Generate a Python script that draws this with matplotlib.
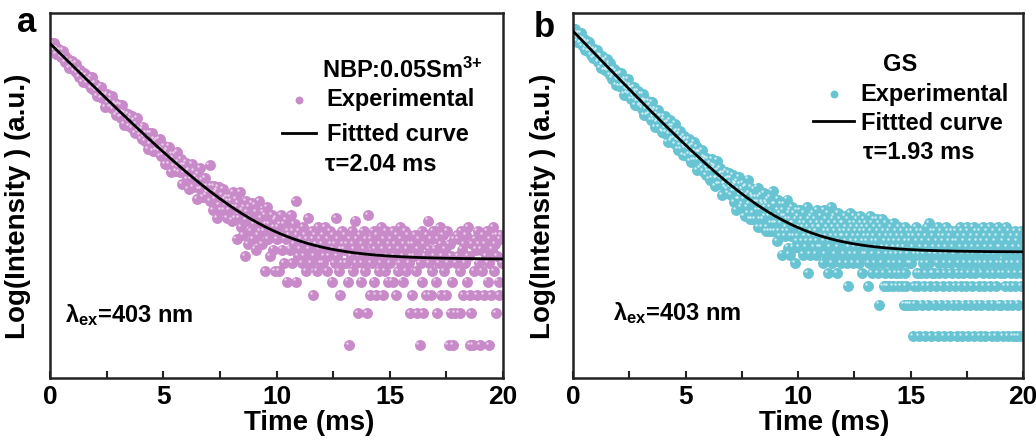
import numpy as np
import matplotlib.pyplot as plt
from matplotlib.transforms import ScaledTranslation

plt.rcParams['font.family'] = ['Liberation Sans', 'DejaVu Sans']
plt.rcParams['font.weight'] = 'bold'
plt.rcParams['axes.labelweight'] = 'bold'
plt.rcParams['mathtext.default'] = 'regular'

# decay curves, photon counts per channel
dt_a = 0.04   # ms per channel
counts_a = [
    719, 647, 713, 658, 713, 614, 633, 558, 638, 607, 572, 612, 530, 549, 606, 512, 537, 468, 504, 486, 508, 414, 475, 436, 481,
    422, 449, 388, 414, 457, 371, 397, 340, 398, 361, 372, 307, 373, 339, 320, 358, 298, 323, 306, 320, 269, 340, 279, 293, 260,
    296, 250, 224, 263, 269, 241, 277, 215, 235, 219, 236, 177, 224, 235, 191, 202, 177, 206, 224, 182, 169, 186, 193, 149, 183,
    155, 187, 163, 141, 186, 147, 159, 121, 157, 144, 132, 152, 117, 136, 129, 146, 113, 120, 132, 101, 121, 140, 104, 112, 96,
    107, 88, 110, 116, 93, 85, 100, 93, 71, 100, 90, 79, 101, 81, 68, 88, 82, 69, 87, 74, 68, 89, 61, 73, 69,
    62, 76, 51, 66, 69, 59, 75, 51, 58, 43, 63, 59, 49, 63, 44, 67, 48, 54, 43, 49, 57, 33, 50, 42, 50,
    53, 37, 44, 30, 45, 40, 37, 51, 31, 44, 36, 39, 24, 41, 36, 30, 47, 30, 36, 25, 32, 38, 26, 28, 32,
    28, 50, 23, 32, 28, 19, 32, 24, 28, 16, 29, 31, 21, 24, 19, 26, 30, 19, 24, 21, 16, 25, 23, 19, 25,
    23, 15, 28, 20, 16, 24, 10, 20, 22, 16, 28, 13, 19, 11, 20, 7, 23, 15, 18, 9, 20, 16, 12, 22, 10,
    14, 21, 8, 18, 14, 11, 23, 12, 16, 9, 18, 12, 5, 17, 14, 20, 10, 14, 7, 12, 17, 8, 13, 5, 15,
    16, 10, 13, 5, 14, 17, 8, 11, 6, 14, 10, 15, 4, 12, 11, 8, 17, 6, 12, 9, 14, 23, 4, 11, 7,
    12, 8, 10, 6, 13, 9, 7, 11, 5, 10, 16, 8, 9, 6, 12, 3, 10, 7, 11, 9, 5, 13, 8, 10, 6,
    9, 6, 11, 7, 13, 8, 5, 10, 7, 12, 9, 4, 8, 11, 6, 9, 16, 7, 10, 5, 3, 8, 12, 6, 9,
    8, 11, 6, 9, 4, 1, 10, 7, 12, 5, 9, 8, 15, 6, 10, 2, 7, 11, 4, 9, 6, 12, 8, 5, 10,
    2, 17, 7, 3, 10, 6, 9, 12, 4, 8, 3, 11, 7, 5, 9, 13, 6, 3, 8, 10, 5, 12, 7, 4, 9,
    6, 10, 8, 4, 12, 7, 9, 3, 11, 5, 8, 13, 6, 10, 4, 7, 9, 12, 5, 8, 11, 6, 2, 9, 7,
    3, 9, 7, 11, 5, 2, 8, 10, 1, 6, 12, 4, 2, 9, 7, 3, 11, 15, 6, 8, 3, 10, 5, 12, 7,
    8, 4, 2, 10, 6, 13, 3, 9, 7, 11, 5, 8, 3, 12, 6, 1, 9, 2, 7, 4, 1, 10, 2, 6, 11,
    7, 10, 2, 5, 12, 8, 3, 9, 6, 11, 4, 13, 7, 3, 1, 2, 9, 1, 5, 10, 8, 3, 12, 6, 9,
    1, 8, 5, 11, 3, 9, 7, 12, 4, 6, 1, 10, 3, 8, 13, 5, 9, 2, 7, 11, 4, 3, 10, 11, 6,
]

dt_b = 0.025
counts_b = [
    846, 732, 802, 753, 850, 711, 746, 641, 771, 740, 695, 770, 622, 696, 767, 632, 689, 583, 653, 631,
    673, 529, 625, 570, 651, 566, 612, 524, 563, 628, 516, 553, 476, 560, 511, 541, 442, 542, 496, 475,
    454, 524, 461, 529, 409, 467, 425, 441, 471, 361, 446, 466, 381, 417, 392, 423, 343, 428, 396, 341,
    441, 352, 365, 332, 377, 398, 309, 350, 331, 351, 284, 352, 302, 352, 304, 309, 336, 248, 307, 279,
    313, 272, 243, 288, 312, 267, 320, 239, 268, 243, 271, 200, 263, 282, 224, 241, 207, 249, 281, 222,
    203, 229, 244, 182, 232, 206, 230, 194, 237, 179, 203, 159, 204, 216, 185, 172, 218, 173, 185, 155,
    159, 201, 171, 147, 204, 158, 176, 127, 175, 162, 146, 173, 128, 155, 147, 172, 130, 138, 157, 114,
    145, 169, 123, 136, 114, 140, 99, 144, 122, 130, 110, 142, 113, 98, 117, 125, 109, 125, 89, 112,
    110, 87, 116, 125, 96, 87, 107, 98, 71, 110, 99, 84, 115, 89, 72, 101, 93, 76, 101, 84,
    77, 106, 68, 87, 81, 74, 89, 60, 84, 72, 90, 66, 73, 61, 77, 73, 53, 80, 64, 74,
    62, 75, 52, 67, 69, 61, 75, 54, 60, 46, 65, 61, 53, 66, 48, 71, 53, 58, 48, 54,
    63, 38, 56, 48, 56, 49, 56, 40, 49, 59, 42, 48, 37, 51, 44, 48, 34, 50, 43, 40,
    49, 37, 42, 31, 44, 40, 37, 49, 32, 43, 37, 40, 27, 42, 37, 32, 47, 32, 38, 28,
    34, 40, 28, 31, 35, 22, 36, 33, 28, 36, 29, 26, 37, 30, 25, 31, 23, 32, 36, 26,
    29, 22, 32, 27, 24, 34, 19, 27, 29, 24, 16, 28, 30, 20, 25, 33, 20, 22, 28, 17,
    25, 18, 29, 23, 20, 14, 26, 21, 27, 17, 22, 31, 15, 18, 23, 13, 26, 19, 22, 13,
    15, 21, 25, 18, 13, 21, 19, 16, 26, 11, 19, 21, 16, 13, 22, 17, 11, 19, 18, 13,
    23, 14, 17, 10, 19, 18, 11, 20, 14, 10, 17, 21, 12, 15, 10, 24, 14, 12, 18, 10,
    18, 12, 14, 8, 16, 20, 10, 13, 9, 15, 12, 18, 6, 16, 14, 10, 18, 9, 14, 11,
    13, 20, 7, 10, 15, 6, 16, 13, 9, 12, 17, 7, 12, 9, 15, 5, 13, 11, 16, 8,
    14, 9, 11, 7, 16, 10, 12, 8, 13, 6, 11, 15, 9, 12, 7, 10, 17, 8, 4, 11,
    13, 9, 6, 14, 10, 12, 8, 15, 7, 11, 9, 13, 6, 10, 16, 8, 12, 7, 11, 9,
    11, 7, 14, 9, 5, 12, 8, 16, 10, 6, 13, 9, 11, 4, 15, 8, 10, 12, 7, 17,
    9, 5, 13, 11, 8, 14, 6, 10, 12, 9, 4, 15, 7, 11, 8, 13, 10, 5, 12, 9,
    9, 12, 6, 10, 14, 8, 11, 5, 3, 13, 9, 7, 15, 10, 6, 12, 8, 11, 5, 14,
    9, 7, 12, 10, 6, 13, 8, 11, 5, 9, 14, 7, 10, 12, 4, 8, 11, 6, 13, 9,
    10, 6, 12, 8, 3, 11, 5, 9, 14, 7, 10, 4, 12, 8, 6, 13, 9, 5, 11, 7,
    13, 8, 4, 10, 2, 12, 6, 9, 11, 5, 13, 7, 3, 10, 4, 8, 12, 3, 6, 9,
    7, 3, 10, 5, 8, 4, 11, 6, 9, 3, 12, 7, 5, 8, 4, 10, 6, 3, 9, 7,
    11, 4, 8, 5, 3, 10, 6, 9, 2, 7, 4, 11, 3, 8, 2, 6, 10, 5, 2, 9,
    8, 5, 2, 10, 1, 7, 3, 9, 6, 2, 11, 4, 8, 3, 10, 1, 6, 9, 4, 7,
    2, 10, 5, 8, 3, 6, 1, 9, 4, 11, 7, 2, 5, 12, 3, 8, 6, 1, 10, 4,
    9, 4, 7, 2, 10, 6, 3, 8, 1, 11, 5, 4, 9, 7, 2, 10, 6, 3, 8, 1,
    9, 5, 4, 11, 7, 2, 6, 10, 3, 8, 1, 9, 5, 4, 10, 7, 2, 6, 8, 3,
    6, 10, 1, 8, 4, 2, 9, 5, 11, 3, 7, 10, 1, 6, 4, 8, 2, 9, 5, 3,
    11, 7, 1, 10, 6, 4, 2, 8, 5, 9, 3, 7, 11, 1, 6, 4, 10, 2, 8, 5,
    9, 3, 7, 1, 10, 5, 2, 8, 4, 11, 6, 3, 9, 1, 7, 5, 10, 2, 8, 4,
    6, 11, 3, 9, 1, 7, 5, 2, 10, 4, 8, 6, 3, 1, 9, 11, 5, 2, 7, 4,
    7, 2, 10, 5, 1, 8, 4, 9, 3, 6, 11, 2, 7, 1, 5, 10, 3, 8, 4, 6,
    2, 9, 1, 5, 7, 3, 10, 4, 1, 8, 6, 2, 9, 5, 1, 7, 3, 10, 4, 6,
]

# single exponential fits  I(t) = A*exp(-t/tau) + B
tau_a, amp_a, bg_a = 2.04, 700.0, 6.5
tau_b, amp_b, bg_b = 1.93, 800.0, 6.35

fig = plt.figure(figsize=(10.36, 4.41), dpi=100)
ax_a = fig.add_axes([0.0483, 0.1429, 0.4373, 0.8277])
ax_b = fig.add_axes([0.5531, 0.1429, 0.4344, 0.8277])


def draw_panel(ax, dt, counts, tau, amp, bg, color, shine, ylim):
    t = np.arange(len(counts)) * dt
    y = np.log10(counts)
    sc = ax.scatter(t, y, s=62, color=color, lw=0, zorder=2)
    # small light spot on each ball
    spot = ax.transData + ScaledTranslation(-1.6 / 72, 1.6 / 72, fig.dpi_scale_trans)
    ax.scatter(t, y, s=3, color=shine, lw=0, transform=spot, zorder=2.1)
    tt = np.linspace(0, 20, 500)
    ln, = ax.plot(tt, np.log10(amp * np.exp(-tt / tau) + bg), color='black', lw=2, zorder=3)

    ax.set_xlim(0, 20)
    ax.set_ylim(*ylim)
    ax.set_xticks([0, 5, 10, 15, 20])
    ax.set_xticks([2.5, 7.5, 12.5, 17.5], minor=True)
    ax.set_yticks([])
    ax.tick_params(axis='x', which='both', direction='in', length=5, width=1.5,
                   labelsize=19, pad=5, color='#222222')
    for sp in ax.spines.values():
        sp.set_linewidth(1.8)
        sp.set_color('#222222')
    ax.set_xlabel('Time (ms)', fontsize=20)
    ax.set_ylabel('Log(Intensity ) (a.u.)', fontsize=20)
    return sc, ln


sc, ln = draw_panel(ax_a, dt_a, counts_a, tau_a, amp_a, bg_a, '#C98AC9', '#EBD3EB', (-0.309, 3.138))
ax_a.xaxis.set_label_coords(0.572, -0.088)
ax_a.yaxis.set_label_coords(-0.042, 0.47)
ax_a.legend([sc, ln], ['Experimental', 'Fittted curve'], loc='center left',
            bbox_to_anchor=(0.512, 0.714), frameon=False, borderpad=0, borderaxespad=0,
            handlelength=1.45, handletextpad=0.45, labelspacing=0.5, markerscale=0.72,
            scatterpoints=1, prop={'weight': 'bold', 'size': 17})
ax_a.text(0.777, 0.844, 'NBP:0.05Sm$^{3{+}}$', transform=ax_a.transAxes, ha='center', va='center', fontsize=17)
ax_a.text(0.607, 0.585, 'τ=2.04 ms', transform=ax_a.transAxes, ha='left', va='center', fontsize=17)
ax_a.text(0.033, 0.173, 'λ$_{ex}$=403 nm', transform=ax_a.transAxes, ha='left', va='center', fontsize=17)

sc, ln = draw_panel(ax_b, dt_b, counts_b, tau_b, amp_b, bg_b, '#68C4D3', '#D2EFF4', (-0.397, 3.079))
ax_b.xaxis.set_label_coords(0.558, -0.088)
ax_b.yaxis.set_label_coords(-0.037, 0.47)
ax_b.legend([sc, ln], ['Experimental', 'Fittted curve'], loc='center left',
            bbox_to_anchor=(0.533, 0.738), frameon=False, borderpad=0, borderaxespad=0,
            handlelength=1.75, handletextpad=0.27, labelspacing=0.25, markerscale=0.72,
            scatterpoints=1, prop={'weight': 'bold', 'size': 17})
ax_b.text(0.727, 0.858, 'GS', transform=ax_b.transAxes, ha='center', va='center', fontsize=17)
ax_b.text(0.644, 0.617, 'τ=1.93 ms', transform=ax_b.transAxes, ha='left', va='center', fontsize=17)
ax_b.text(0.089, 0.178, 'λ$_{ex}$=403 nm', transform=ax_b.transAxes, ha='left', va='center', fontsize=17)

fig.text(0.0164, 0.927, 'a', fontsize=25, va='baseline')
fig.text(0.5154, 0.916, 'b', fontsize=25, va='baseline')

fig.savefig('out.png', dpi=100)
